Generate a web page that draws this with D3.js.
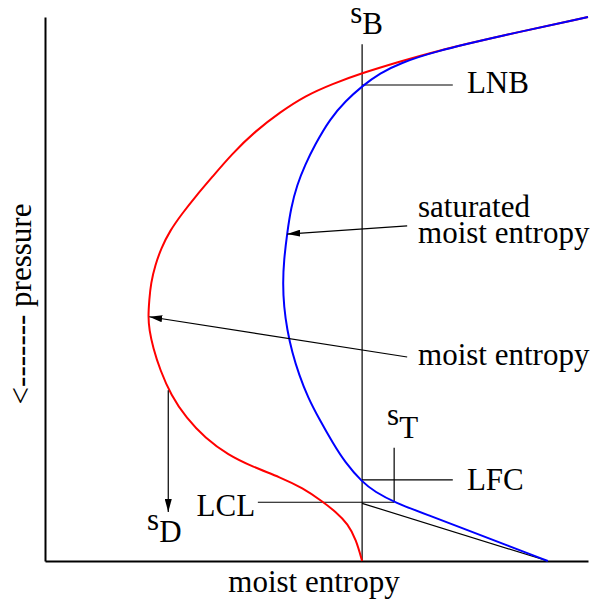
<!DOCTYPE html>
<html>
<head>
<meta charset="utf-8">
<script src="https://cdn.jsdelivr.net/npm/d3@7"></script>
<style>
  body { margin: 0; background: #fff; }
  text { font-family: "Liberation Serif", "Times New Roman", serif; font-size: 31px; fill: #000; }
</style>
</head>
<body>
<div id="chart"></div>
<script>
// moist entropy (x) vs height (y), both in 0..100 units
const moistEntropy = [
  [58.4, 0], [57.3, 3.9], [55.8, 6.8], [53.6, 9.0], [51.0, 11.0], [47.5, 13.4],
  [43.3, 15.4], [38.3, 17.3], [33.7, 19.5], [29.5, 22.6], [26.0, 26.3], [23.2, 30.5],
  [21.2, 35.1], [19.9, 39.2], [19.2, 42.5], [19.0, 44.9], [19.2, 48.0], [19.5, 51.1],
  [20.3, 54.4], [21.4, 57.5], [23.0, 60.7], [25.2, 63.8], [27.8, 67.1], [30.8, 70.6],
  [34.4, 74.8], [38.7, 79.0], [43.3, 82.5], [47.9, 85.5], [52.9, 87.7], [58.4, 89.7],
  [65.0, 91.7], [71.5, 93.6], [83.8, 96.5], [100, 100]
];

const satMoistEntropy = [
  [92.6, 0], [85.1, 2.9], [77.7, 5.7], [70.9, 8.3], [64.3, 10.8], [60.8, 12.7],
  [58.4, 14.5], [55.2, 18.2], [53.0, 21.7], [50.6, 25.9], [48.4, 30.1], [46.8, 34.2],
  [45.5, 38.4], [44.6, 42.5], [44.0, 46.7], [43.8, 51.1], [44.0, 55.3], [44.6, 60.3],
  [45.3, 64.9], [46.4, 69.1], [47.9, 72.8], [49.7, 76.5], [52.5, 81.3], [55.4, 84.6],
  [58.4, 87.3], [61.7, 89.7], [65.4, 91.5], [71.5, 93.6], [83.8, 96.5], [100, 100]
];

// parcel lifted dry adiabatically from the surface to the LCL
const dryAdiabat = [[58.4, 10.6], [92.6, 0]];

// thin reference lines
const guideLines = [
  [[58.4, 0], [58.4, 95.0]],    // s_B
  [[58.4, 87.5], [75.1, 87.5]], // LNB
  [[58.4, 14.9], [75.1, 14.9]], // LFC
  [[39.2, 10.8], [64.3, 10.8]], // LCL
  [[64.3, 10.8], [64.3, 20.8]]  // s_T
];

// arrows: from -> to
const arrows = [
  [[66.7, 61.6], [44.6, 60.1]],
  [[66.7, 37.5], [19.2, 44.9]],
  [[22.7, 31.4], [22.7, 9.0]]
];

const labels = [
  {text: "LNB", x: 77.7, y: 86.0},
  {text: "LFC", x: 77.7, y: 13.1},
  {text: "LCL", x: 38.7, y: 8.3, anchor: "end"},
  {text: "saturated", x: 68.7, y: 63.2},
  {text: "moist entropy", x: 68.7, y: 58.5},
  {text: "moist entropy", x: 68.7, y: 36.0}
];

const subLabels = [
  {main: "s", sub: "B", x: 56.2, y: 98.9, dy: 11},
  {main: "s", sub: "T", x: 63.0, y: 25.0, dy: 13},
  {main: "s", sub: "D", x: 18.8, y: 5.7, dy: 12}
];

const svgWidth = 595;
const svgHeight = 601;
const margin = {top: 17, right: 7, bottom: 40, left: 45};
const width = svgWidth - margin.left - margin.right;
const height = svgHeight - margin.top - margin.bottom;

const svg = d3.select("#chart")
  .append("svg")
  .attr("width", svgWidth)
  .attr("height", svgHeight);

const chartGroup = svg.append("g")
  .attr("transform", `translate(${margin.left}, ${margin.top})`);

const x = d3.scaleLinear().domain([0, 100]).range([0, width]);
const y = d3.scaleLinear().domain([0, 100]).range([height, 0]);

svg.append("defs").append("marker")
  .attr("id", "head")
  .attr("markerUnits", "userSpaceOnUse")
  .attr("viewBox", "0 0 13 7")
  .attr("markerWidth", 13)
  .attr("markerHeight", 7)
  .attr("refX", 13)
  .attr("refY", 3.5)
  .attr("orient", "auto")
  .append("path")
  .attr("d", "M0,0L13,3.5L0,7Z")
  .attr("fill", "#000");

// axes without ticks
chartGroup.append("g")
  .attr("transform", `translate(0, ${height})`)
  .call(d3.axisBottom(x).ticks(0).tickSizeOuter(0))
  .select(".domain").attr("stroke", "#000").attr("stroke-width", 2);

chartGroup.append("g")
  .call(d3.axisLeft(y).ticks(0).tickSizeOuter(0))
  .select(".domain").attr("stroke", "#000").attr("stroke-width", 2);

const line = d3.line()
  .x(d => x(d[0]))
  .y(d => y(d[1]));

// smooth B-spline through the read-off points
const curve = d3.line()
  .x(d => x(d[0]))
  .y(d => y(d[1]))
  .curve(d3.curveBasis);

chartGroup.selectAll(".guide")
  .data(guideLines.concat([dryAdiabat]))
  .enter()
  .append("path")
  .attr("class", "guide")
  .attr("d", line)
  .attr("fill", "none")
  .attr("stroke", "#000")
  .attr("stroke-width", 1.2);

chartGroup.append("path")
  .datum(moistEntropy)
  .attr("d", curve)
  .attr("fill", "none")
  .attr("stroke", "#ff0000")
  .attr("stroke-width", 2);

chartGroup.append("path")
  .datum(satMoistEntropy)
  .attr("d", curve)
  .attr("fill", "none")
  .attr("stroke", "#0000ff")
  .attr("stroke-width", 2);

chartGroup.selectAll(".arrow")
  .data(arrows)
  .enter()
  .append("path")
  .attr("class", "arrow")
  .attr("d", line)
  .attr("fill", "none")
  .attr("stroke", "#000")
  .attr("stroke-width", 1.2)
  .attr("marker-end", "url(#head)");

chartGroup.selectAll(".label")
  .data(labels)
  .enter()
  .append("text")
  .attr("class", "label")
  .attr("x", d => x(d.x))
  .attr("y", d => y(d.y))
  .attr("text-anchor", d => d.anchor || "start")
  .text(d => d.text);

const subs = chartGroup.selectAll(".sub")
  .data(subLabels)
  .enter()
  .append("text")
  .attr("class", "sub")
  .attr("x", d => x(d.x))
  .attr("y", d => y(d.y));
subs.append("tspan").text(d => d.main);
subs.append("tspan").attr("dy", d => d.dy).text(d => d.sub);

// axis titles
svg.append("text")
  .attr("x", 314)
  .attr("y", 592)
  .attr("text-anchor", "middle")
  .text("moist entropy");

svg.append("text")
  .attr("transform", "translate(31, 304) rotate(-90)")
  .attr("text-anchor", "middle")
  .text("<------- pressure");
</script>
</body>
</html>
